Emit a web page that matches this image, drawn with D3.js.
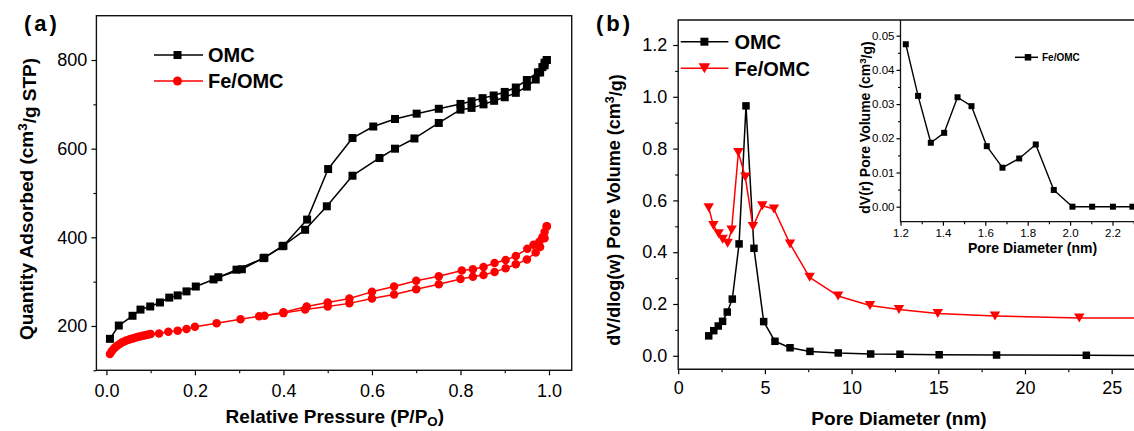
<!DOCTYPE html>
<html><head><meta charset="utf-8">
<script src="https://cdn.jsdelivr.net/npm/d3@7"></script>
<style>body{margin:0;background:#fff} svg{display:block} text{font-family:Arial,"Liberation Sans",sans-serif}</style>
</head><body><svg id="c" width="1134" height="431"></svg>
<script>
// ---------- Panel (a): N2 isotherms ----------
const omcAdsP = [0.008,0.028,0.059,0.077,0.099,0.121,0.142,0.161,0.181,0.202,0.242,0.294,0.355,0.398,0.449,0.498,0.556,0.617,0.652,0.696,0.751,0.80,0.825,0.852,0.876,0.90,0.925,0.95,0.97,0.98,0.99,0.995];
const omcAdsQ = [171,201,223,237,244,253,264,269,278,289,305,327,353,380,417,470,539,579,600,623,658,688,692,700,708,716,726,740,756,772,788,800];
const omcDesP = [0.995,0.99,0.985,0.975,0.95,0.925,0.90,0.875,0.85,0.825,0.80,0.751,0.701,0.652,0.603,0.556,0.501,0.4535,0.40,0.357,0.306,0.253];
const omcDesQ = [800,794,784,772,755,738,728,720,714,707,701,690,679,667,650,624,554,440,381,354,328,310];
const feAdsP = [0.008,0.012,0.016,0.02,0.025,0.03,0.035,0.04,0.045,0.05,0.055,0.06,0.065,0.07,0.075,0.08,0.085,0.09,0.095,0.10,0.119,0.14,0.161,0.181,0.20,0.249,0.303,0.345,0.40,0.449,0.50,0.549,0.60,0.65,0.70,0.751,0.80,0.828,0.852,0.877,0.902,0.925,0.95,0.97,0.98,0.99,0.995];
const feAdsQ = [137,143,148,152,156,159.5,162.5,165,167,169,170.5,172,173.5,175,176,177.5,178.5,179.5,181,182,183,187,189.5,193,198,206,215,222,229,237,244,251,262,271,283,294,306,311,315,322,330,339,350,366,378,398,425];
const feDesP = [0.995,0.99,0.985,0.978,0.965,0.951,0.925,0.902,0.877,0.852,0.828,0.803,0.751,0.70,0.65,0.60,0.549,0.50,0.4525,0.40,0.357];
const feDesQ = [425,412,400,390,383,374,358,349,342,333,328,325,312,302,289,277,262,253,244,231,223];
const aXTicks = [0.0,0.2,0.4,0.6,0.8,1.0];
const aYTicks = [200,400,600,800];

// ---------- Panel (b): pore size distribution ----------
const psdOmcD = [1.76,2.05,2.31,2.56,2.83,3.12,3.51,3.91,4.37,4.93,5.58,6.45,7.6,9.23,11.1,12.79,15.05,18.36,23.54,29.5];
const psdOmcV = [0.077,0.097,0.115,0.133,0.169,0.219,0.432,0.965,0.415,0.132,0.056,0.031,0.017,0.011,0.007,0.006,0.004,0.003,0.002,0.001];
const psdFeD = [1.76,2.03,2.33,2.56,2.85,3.08,3.47,3.87,4.31,4.85,5.52,6.45,7.58,9.22,11.06,12.73,14.97,18.27,23.13,29.5];
const psdFeV = [0.572,0.503,0.471,0.45,0.435,0.486,0.785,0.69,0.499,0.579,0.567,0.432,0.303,0.231,0.194,0.179,0.163,0.154,0.146,0.146];
const bXTicks = [0,5,10,15,20,25];
const bYTicks = [0.0,0.2,0.4,0.6,0.8,1.0,1.2];

// ---------- Inset ----------
const insD = [1.225,1.283,1.343,1.406,1.469,1.535,1.607,1.681,1.760,1.838,1.923,2.011,2.104,2.202,2.294];
const insV = [0.0475,0.0324,0.0187,0.0216,0.0320,0.0294,0.0177,0.0114,0.0141,0.0182,0.0049,0,0,0,0];
const insXTicks = [1.2,1.4,1.6,1.8,2.0,2.2];
const insYTicks = [0.00,0.01,0.02,0.03,0.04,0.05];

const RED = '#ff0000', BLK = '#000';
const svg = d3.select('#c');

function styleAxis(g, fs){
  g.select('.domain').remove();
  g.selectAll('.tick line').attr('stroke','#000').attr('stroke-width',1.2);
  g.selectAll('.tick text').attr('font-size',fs).attr('fill','#000');
}
function minor(g, axisFn, scale, vals, size){
  const ax = axisFn(scale).tickValues(vals).tickSize(size).tickFormat('');
  g.call(ax); g.select('.domain').remove();
  g.selectAll('.tick line').attr('stroke','#000').attr('stroke-width',1.1);
}
function markerPath(type, s){
  const h = s/2;
  if(type==='sq') return `M${-h},${-h}H${h}V${h}H${-h}Z`;
  if(type==='ci') return `M${-h},0A${h},${h} 0 1,0 ${h},0A${h},${h} 0 1,0 ${-h},0Z`;
  if(type==='dt') { const w = s*0.58, t = s*0.5; return `M${-w},${-t}L${w},${-t}L0,${t}Z`; }
}
function series(g, xs, ys, xS, yS, color, type, size, lw){
  const line = d3.line().x(i=>xS(xs[i])).y(i=>yS(ys[i]));
  g.append('path').attr('d', line(d3.range(xs.length))).attr('fill','none')
    .attr('stroke',color).attr('stroke-width',lw||1.5).attr('stroke-linejoin','round');
  g.selectAll(null).data(d3.range(xs.length)).enter().append('path')
    .attr('d', markerPath(type,size)).attr('fill',color)
    .attr('transform', i=>`translate(${xS(xs[i])},${yS(ys[i])})`);
}
function legendItem(g, x1, x2, xm, y, color, type, size, label, fs, tx){
  g.append('line').attr('x1',x1).attr('x2',x2).attr('y1',y).attr('y2',y).attr('stroke',color).attr('stroke-width',1.5);
  g.append('path').attr('d',markerPath(type,size)).attr('fill',color).attr('transform',`translate(${xm},${y})`);
  g.append('text').attr('x',tx).attr('y',y+fs*0.36).attr('font-size',fs).attr('font-weight','bold').attr('fill','#000').text(label);
}

// ===== Panel (a) =====
const A = {l:96.4, r:571.7, t:15.7, b:370.3};
const ax = d3.scaleLinear().domain([-0.0226,1.0513]).range([A.l,A.r]);
const ay = d3.scaleLinear().domain([100,900]).range([A.b,A.t]);
const ga = svg.append('g');
ga.append('g').attr('transform',`translate(0,${A.b})`).call(g=>minor(g,d3.axisBottom,ax,d3.range(0,11).map(d=>d/10).filter(d=>Math.round(d*10)%2),3));
ga.append('g').attr('transform',`translate(${A.l},0)`).call(g=>minor(g,d3.axisLeft,ay,[100,300,500,700],3));
ga.append('g').attr('transform',`translate(0,${A.b})`)
  .call(d3.axisBottom(ax).tickValues(aXTicks).tickFormat(d3.format('.1f')).tickSize(5).tickPadding(9).tickSizeOuter(0))
  .call(g=>styleAxis(g,18));
ga.append('g').attr('transform',`translate(${A.l},0)`)
  .call(d3.axisLeft(ay).tickValues(aYTicks).tickFormat(d3.format('d')).tickSize(5).tickPadding(4).tickSizeOuter(0))
  .call(g=>styleAxis(g,18));
ga.append('rect').attr('x',A.l).attr('y',A.t).attr('width',A.r-A.l).attr('height',A.b-A.t)
  .attr('fill','none').attr('stroke','#111').attr('stroke-width',1.4);
series(ga, feAdsP, feAdsQ, ax, ay, RED, 'ci', 8.5);
series(ga, feDesP, feDesQ, ax, ay, RED, 'ci', 8.5);
series(ga, omcAdsP, omcAdsQ, ax, ay, BLK, 'sq', 8);
series(ga, omcDesP, omcDesQ, ax, ay, BLK, 'sq', 8);
legendItem(ga,154,203,177.5,55,BLK,'sq',8,'OMC',20,208);
legendItem(ga,154,203,177.5,81,RED,'ci',9,'Fe/OMC',20,208);
ga.append('text').attr('transform','translate(33,199) rotate(-90)').attr('text-anchor','middle')
  .attr('font-size',19).attr('font-weight','bold').attr('fill','#000')
  .call(t=>{t.append('tspan').text('Quantity Adsorbed (cm');
           t.append('tspan').attr('dy','-0.45em').attr('font-size','0.7em').text('3');
           t.append('tspan').attr('dy','0.45em').text('/g STP)');});
ga.append('text').attr('x',334.8).attr('y',423).attr('text-anchor','middle')
  .attr('font-size',19).attr('font-weight','bold').attr('fill','#000')
  .call(t=>{t.append('tspan').text('Relative Pressure (P/P');
           t.append('tspan').attr('dy','0.22em').attr('font-size','0.7em').text('O');
           t.append('tspan').attr('dy','-0.22em').text(')');});
svg.append('text').attr('x',24).attr('y',31).attr('font-family','"Liberation Serif","Times New Roman",serif')
  .attr('font-weight','bold').attr('font-size',22).attr('letter-spacing',3).attr('fill','#000').text('(a)');

// ===== Panel (b) =====
const B = {l:678.2, r:1163.7, t:20, b:369.3};
const bx = d3.scaleLinear().domain([0,28]).range([B.l,B.r]);
const by = d3.scaleLinear().domain([0,1.2]).range([355.8,45]);
const gb = svg.append('g');
gb.append('g').attr('transform',`translate(0,${B.b})`).call(g=>minor(g,d3.axisBottom,bx,[2.5,7.5,12.5,17.5,22.5,27.5],3));
gb.append('g').attr('transform',`translate(${B.l},0)`).call(g=>minor(g,d3.axisLeft,by,[0.1,0.3,0.5,0.7,0.9,1.1],3));
gb.append('g').attr('transform',`translate(0,${B.b})`)
  .call(d3.axisBottom(bx).tickValues(bXTicks).tickFormat(d3.format('d')).tickSize(5).tickPadding(7).tickSizeOuter(0))
  .call(g=>styleAxis(g,18));
gb.append('g').attr('transform',`translate(${B.l},0)`)
  .call(d3.axisLeft(by).tickValues(bYTicks).tickFormat(d3.format('.1f')).tickSize(5).tickPadding(6).tickSizeOuter(0))
  .call(g=>styleAxis(g,18));
gb.append('path').attr('d',`M${B.r},${B.t}H${B.l}V${B.b}H${B.r}`).attr('fill','none').attr('stroke','#111').attr('stroke-width',1.4);
series(gb, psdOmcD, psdOmcV, bx, by, BLK, 'sq', 7.5);
series(gb, psdFeD, psdFeV, bx, by, RED, 'dt', 9);
legendItem(gb,680.7,728.4,704.4,41.7,BLK,'sq',8,'OMC',20,734.4);
legendItem(gb,680.7,728.4,704.4,68.3,RED,'dt',10,'Fe/OMC',20,734.4);
gb.append('text').attr('transform','translate(620,210) rotate(-90)').attr('text-anchor','middle')
  .attr('font-size',18).attr('font-weight','bold').attr('fill','#000')
  .call(t=>{t.append('tspan').text('dV/dlog(w) Pore Volume (cm');
           t.append('tspan').attr('dy','-0.45em').attr('font-size','0.7em').text('3');
           t.append('tspan').attr('dy','0.45em').text('/g)');});
gb.append('text').attr('x',899).attr('y',425).attr('text-anchor','middle')
  .attr('font-size',19).attr('font-weight','bold').attr('fill','#000').text('Pore Diameter (nm)');
svg.append('text').attr('x',596).attr('y',31).attr('font-family','"Liberation Serif","Times New Roman",serif')
  .attr('font-weight','bold').attr('font-size',22).attr('letter-spacing',3).attr('fill','#000').text('(b)');

// ===== Inset =====
const I = {l:900.5, t:20, b:221.7};
const ix = d3.scaleLinear().domain([1.2,2.4]).range([I.l, I.l+1.2*212]);
const iy = d3.scaleLinear().domain([0,0.05]).range([206.7,35.7]);
const gi = svg.append('g');
gi.append('g').attr('transform',`translate(0,${I.b})`).call(g=>minor(g,d3.axisBottom,ix,[1.3,1.5,1.7,1.9,2.1,2.3],2.5));
gi.append('g').attr('transform',`translate(${I.l},0)`).call(g=>minor(g,d3.axisLeft,iy,[0.005,0.015,0.025,0.035,0.045],2.5));
gi.append('g').attr('transform',`translate(0,${I.b})`)
  .call(d3.axisBottom(ix).tickValues(insXTicks).tickFormat(d3.format('.1f')).tickSize(4).tickPadding(3).tickSizeOuter(0))
  .call(g=>styleAxis(g,11.5));
gi.append('g').attr('transform',`translate(${I.l},0)`)
  .call(d3.axisLeft(iy).tickValues(insYTicks).tickFormat(d3.format('.2f')).tickSize(4).tickPadding(2).tickSizeOuter(0))
  .call(g=>styleAxis(g,11.5));
gi.append('path').attr('d',`M${I.l},${I.t}V${I.b}H1140`).attr('fill','none').attr('stroke','#111').attr('stroke-width',1.3);
series(gi, insD, insV, ix, iy, BLK, 'sq', 6, 1.4);
legendItem(gi,1015,1038,1028,57.3,BLK,'sq',6.5,'Fe/OMC',10,1042);
gi.append('text').attr('transform','translate(870,127.5) rotate(-90)').attr('text-anchor','middle')
  .attr('font-size',14).attr('font-weight','bold').attr('fill','#000')
  .call(t=>{t.append('tspan').text('dV(r) Pore Volume (cm');
           t.append('tspan').attr('dy','-0.45em').attr('font-size','0.7em').text('3');
           t.append('tspan').attr('dy','0.45em').text('/g)');});
gi.append('text').attr('x',1032.5).attr('y',253).attr('text-anchor','middle')
  .attr('font-size',14).attr('font-weight','bold').attr('fill','#000').text('Pore Diameter (nm)');
</script></body></html>
